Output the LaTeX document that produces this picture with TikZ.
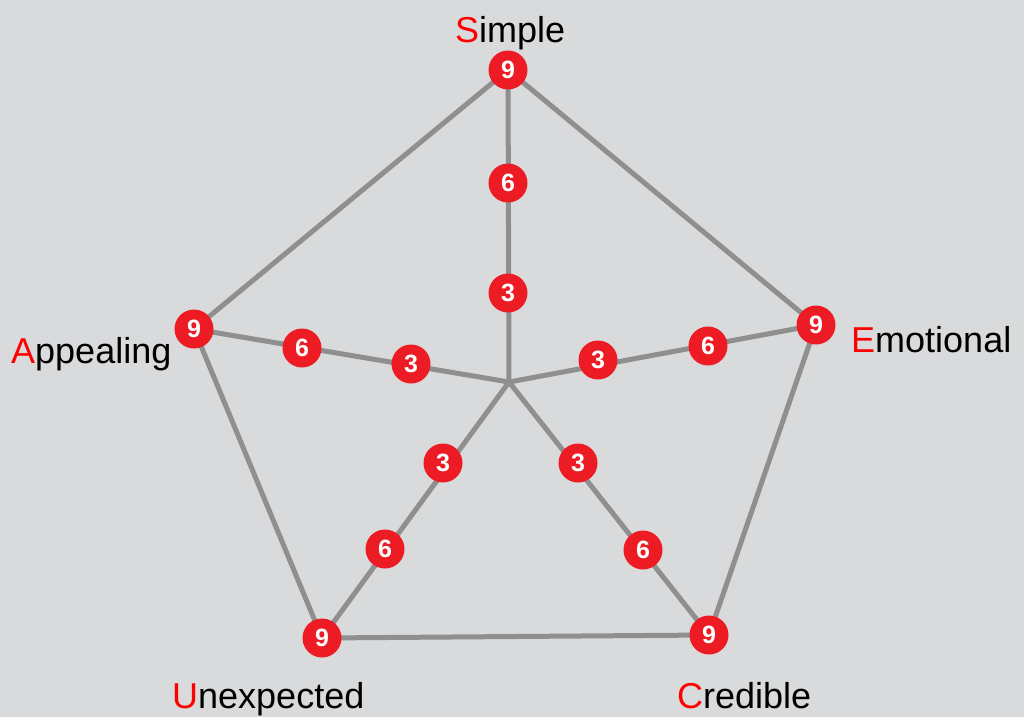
\documentclass[tikz,border=0pt]{standalone}
\usepackage{fontspec}
\setmainfont{Liberation Sans}
\usetikzlibrary{backgrounds}
\definecolor{bgc}{HTML}{D9DADC}
\definecolor{linec}{HTML}{8F8F8F}
\definecolor{dotc}{HTML}{ED1C24}
\definecolor{letc}{HTML}{FF0000}
\tikzset{
  dot/.style={circle,fill=dotc,minimum size=39pt,inner sep=0pt,text=white,font=\fontsize{25}{25}\selectfont\bfseries},
  lbl/.style={anchor=base west,inner sep=0pt,font=\fontsize{36}{36}\selectfont},
  wire/.style={draw=linec,line width=5pt}
}
\newcommand{\rl}[1]{\textcolor{letc}{#1}}
\begin{document}
\begin{tikzpicture}[x=1pt,y=-1pt]
\useasboundingbox (0,0) rectangle (1024,717);
\coordinate (c) at (509,382);
% vertices
\node[dot] (s9) at (508,70) {9};
\node[dot] (e9) at (816,325) {9};
\node[dot] (c9) at (709,635) {9};
\node[dot] (u9) at (322,638) {9};
\node[dot] (a9) at (194,329) {9};
% sixes
\node[dot] (s6) at (508,183) {6};
\node[dot] (e6) at (708,346) {6};
\node[dot] (c6) at (643,550) {6};
\node[dot] (u6) at (385,549) {6};
\node[dot] (a6) at (302,348) {6};
% threes
\node[dot] (s3) at (508,293) {3};
\node[dot] (e3) at (598,360) {3};
\node[dot] (c3) at (578,463) {3};
\node[dot] (u3) at (443,463) {3};
\node[dot] (a3) at (411,364) {3};
% labels
\node[lbl] (ls) at (455,42) {\rl{S}imple};
\node[lbl] (la) at (11,363) {\rl{A}ppealing};
\node[lbl] (le) at (851,352) {\rl{E}motional};
\node[lbl] (lu) at (172,708) {\rl{U}nexpected};
\node[lbl] (lc) at (677,708) {\rl{C}redible};
\begin{scope}[on background layer]
\fill[bgc] (0,0) rectangle (1024,717);
\draw[wire] (s9.center) -- (e9.center) -- (c9.center) -- (u9.center) -- (a9.center) -- cycle;
\foreach \v in {s,e,c,u,a}{
  \draw[wire] (c) -- (\v9.center);
}
\end{scope}
\end{tikzpicture}
\end{document}
